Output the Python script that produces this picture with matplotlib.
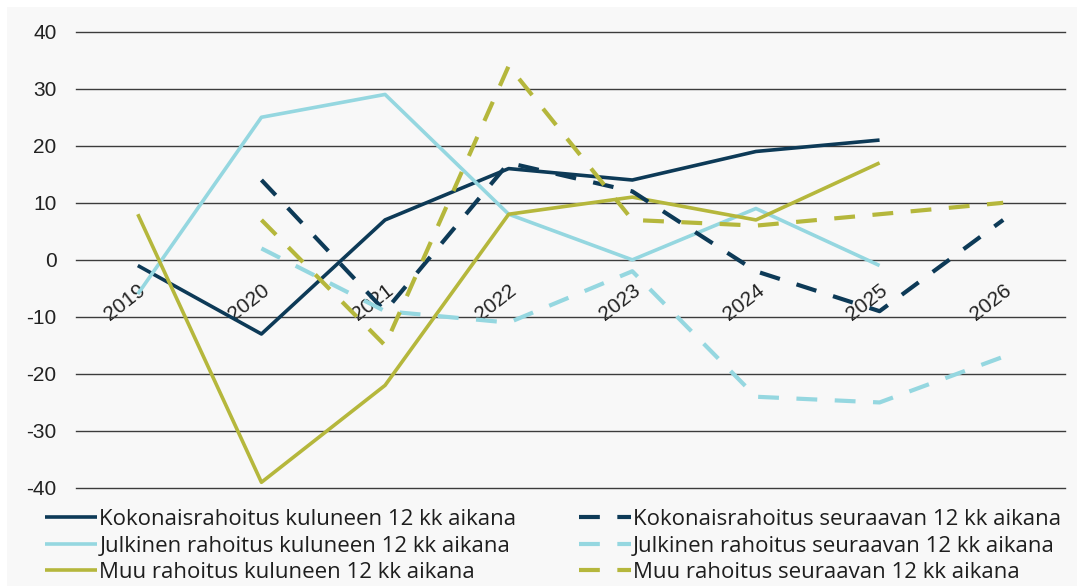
import matplotlib
matplotlib.use("Agg")
import matplotlib.pyplot as plt
from matplotlib.patches import Rectangle
import numpy as np

years = ["2019", "2020", "2021", "2022", "2023", "2024", "2025", "2026"]

koko_kul = [-1, -13, 7, 16, 14, 19, 21, None]
julk_kul = [-6, 25, 29, 8, 0, 9, -1, None]
muu_kul = [8, -39, -22, 8, 11, 7, 17, None]
koko_seur = [None, 14, -9, 17, 12, -2, -9, 7]
julk_seur = [None, 2, -9, -11, -2, -24, -25, -17]
muu_seur = [None, 7, -15, 34, 7, 6, 8, 10]

labels = [
    "Kokonaisrahoitus kuluneen 12 kk aikana",
    "Julkinen rahoitus kuluneen 12 kk aikana",
    "Muu rahoitus kuluneen 12 kk aikana",
    "Kokonaisrahoitus seuraavan 12 kk aikana",
    "Julkinen rahoitus seuraavan 12 kk aikana",
    "Muu rahoitus seuraavan 12 kk aikana",
]
yticks = [-40, -30, -20, -10, 0, 10, 20, 30, 40]

DARK = "#0D3A57"
LIGHT = "#95D7E0"
OLIVE = "#B5B73C"

def arr(v):
    return np.array([np.nan if x is None else x for x in v], dtype=float)

fig = plt.figure(figsize=(10.77, 5.86), dpi=100)
fig.patch.set_facecolor("white")
fig.patches.append(Rectangle((7 / 1077, 0), 1, 1 - 7 / 586, transform=fig.transFigure,
                             facecolor="#F8F8F8", edgecolor="none", zorder=-10))

ax = fig.add_axes([76 / 1077, 1 - 488 / 586, (1065 - 76) / 1077, (488 - 31.7) / 586])
ax.set_facecolor("none")

x = np.arange(len(years))
lw = 2.6
dash = (5.0, 4.2)
series = [
    (koko_kul, DARK, "-"),
    (julk_kul, LIGHT, "-"),
    (muu_kul, OLIVE, "-"),
    (koko_seur, DARK, "--"),
    (julk_seur, LIGHT, "--"),
    (muu_seur, OLIVE, "--"),
]
handles = []
for (vals, col, ls), lab in zip(series, labels):
    if ls == "-":
        h, = ax.plot(x, arr(vals), color=col, lw=lw, solid_joinstyle="round",
                     solid_capstyle="butt", label=lab)
    else:
        h, = ax.plot(x, arr(vals), color=col, lw=lw + 0.4, dashes=dash,
                     dash_capstyle="butt", dash_joinstyle="round", label=lab)
    handles.append(h)

ax.set_xlim(-0.5, len(years) - 0.5)
ax.set_ylim(-40, 40)
ax.set_yticks(yticks)
ax.set_yticklabels([str(t) for t in yticks], fontsize=15, family="Liberation Sans", color="#222222")
ax.yaxis.grid(True, color="#3C3C3C", lw=1.0)
for gl in ax.yaxis.get_gridlines():
    gl.set_clip_on(False)
ax.set_axisbelow(True)
ax.tick_params(axis="y", length=0, pad=14)

for s in ["top", "right", "left"]:
    ax.spines[s].set_visible(False)
ax.spines["bottom"].set_position(("data", 0))
ax.spines["bottom"].set_visible(False)
ax.set_xticks(x)
ax.set_xticklabels(years, fontsize=15, family="Liberation Sans", color="#222222",
                   rotation=38, ha="right", va="top", rotation_mode="anchor")
ax.tick_params(axis="x", length=0, pad=15)

leg = fig.legend(handles=handles, labels=labels, ncol=2, loc="center left",
                 bbox_to_anchor=(45 / 1077, 1 - 546 / 586), frameon=False,
                 prop={"family": "Open Sans", "size": 16}, handlelength=2.35,
                 handletextpad=0.1, columnspacing=2.8, labelspacing=0.25,
                 borderaxespad=0, borderpad=0)
for t in leg.get_texts():
    t.set_color("#1E1E1E")

fig.savefig("out.png", dpi=100, facecolor=fig.get_facecolor())
